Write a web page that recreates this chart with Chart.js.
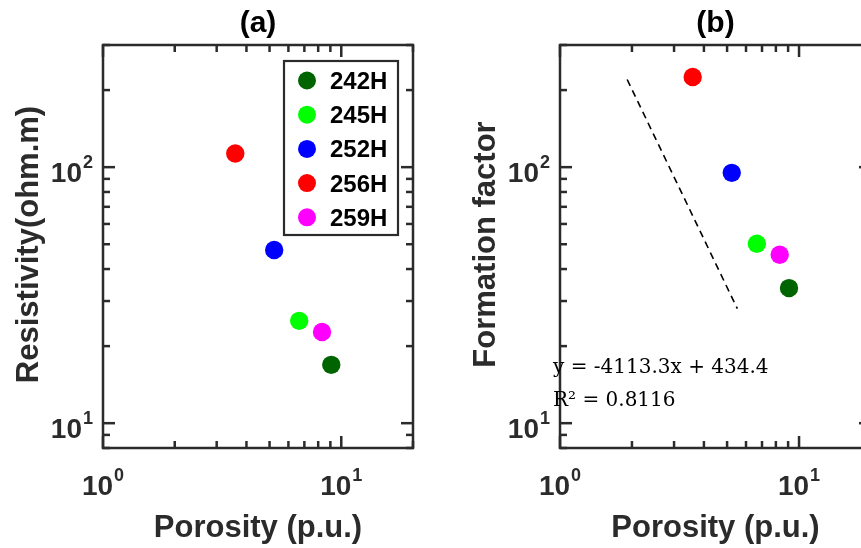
<!DOCTYPE html>
<html>
<head>
<meta charset="utf-8">
<script src="https://cdn.jsdelivr.net/npm/chart.js@4.4.1/dist/chart.umd.min.js"></script>
<style>
  html, body { margin: 0; padding: 0; background: #fff; }
  body { width: 861px; height: 548px; overflow: hidden; position: relative; }
  canvas { position: absolute; top: 0; }
  #chartA { left: 0; }
  #chartB { left: 430px; }
</style>
</head>
<body>
<canvas id="chartA" width="430" height="548"></canvas>
<canvas id="chartB" width="470" height="548"></canvas>
<script>
// wells and their measurements
const wells = ['242H', '245H', '252H', '256H', '259H'];
const wellColors = ['#006400', '#00ff00', '#0000ff', '#ff0000', '#ff00ff'];
const porosity = [9.08, 6.66, 5.23, 3.59, 8.3];
const resistivity = [16.9, 25.1, 47.5, 113, 22.7];
const formationFactor = [33.7, 50.2, 95, 225, 45.5];

// trend line on panel (b)
const fitX = [1.91, 5.52];
const fitY = [220, 28];
const fitText = ['y = -4113.3x + 434.4', 'R\u00b2 = 0.8116'];

// axes
const xMin = 1, xMax = 20;
const yMin = 8, yMax = 300;
const xTicks = [1, 2, 3, 4, 5, 6, 7, 8, 9, 10, 20];
const yTicks = [8, 9, 10, 20, 30, 40, 50, 60, 70, 80, 90, 100, 200, 300];
const majorTicks = [1, 10, 100];
const xTickLabels = [1, 10];
const yTickLabels = [10, 100];

const axisColor = '#2b2b2b';
const sans = '"Liberation Sans", Arial, sans-serif';

function wellDatasets(yValues) {
  return wells.map((w, i) => ({
    label: w,
    data: [{ x: porosity[i], y: yValues[i] }],
    backgroundColor: wellColors[i],
    borderWidth: 0,
    pointRadius: 9.2,
    pointHoverRadius: 9.2
  }));
}

function line(ctx, x1, y1, x2, y2) {
  ctx.beginPath();
  ctx.moveTo(x1, y1);
  ctx.lineTo(x2, y2);
  ctx.stroke();
}

// "10" with a raised exponent
function powerLabel(ctx, value, x, y, side) {
  const exp = String(Math.round(Math.log10(value)));
  ctx.font = 'bold 28px ' + sans;
  const w1 = ctx.measureText('10').width;
  ctx.font = 'bold 18px ' + sans;
  const w2 = ctx.measureText(exp).width;
  let left, base;
  if (side === 'bottom') {
    left = x - (w1 + w2 + 1) / 2;
    base = y + 47;
  } else {
    left = x - 10 - w2 - 1 - w1;
    base = y + 15;
  }
  ctx.textAlign = 'left';
  ctx.textBaseline = 'alphabetic';
  ctx.font = 'bold 28px ' + sans;
  ctx.fillText('10', left, base);
  ctx.font = 'bold 18px ' + sans;
  ctx.fillText(exp, left + w1 + 1, base - 14);
}

// box, inside ticks, labels, legend and notes
const framePlugin = {
  id: 'frame',
  afterDraw(chart, args, opts) {
    const { ctx, chartArea: a, scales: { x, y } } = chart;
    ctx.save();
    ctx.strokeStyle = axisColor;
    ctx.fillStyle = axisColor;
    ctx.lineWidth = 2.5;
    ctx.lineCap = 'butt';
    ctx.strokeRect(a.left, a.top, a.right - a.left, a.bottom - a.top);

    xTicks.forEach(v => {
      const px = x.getPixelForValue(v);
      const len = majorTicks.includes(v) ? 12 : 7;
      line(ctx, px, a.bottom, px, a.bottom - len);
      line(ctx, px, a.top, px, a.top + len);
    });
    yTicks.forEach(v => {
      const py = y.getPixelForValue(v);
      const len = majorTicks.includes(v) ? 12 : 7;
      line(ctx, a.left, py, a.left + len, py);
      line(ctx, a.right, py, a.right - len, py);
    });

    xTickLabels.forEach(v => powerLabel(ctx, v, x.getPixelForValue(v), a.bottom, 'bottom'));
    yTickLabels.forEach(v => powerLabel(ctx, v, a.left, y.getPixelForValue(v), 'left'));

    const cx = (a.left + a.right) / 2;
    const cy = (a.top + a.bottom) / 2 - 2;
    ctx.fillStyle = '#000';
    ctx.textAlign = 'center';
    ctx.textBaseline = 'alphabetic';
    ctx.font = 'bold 30px ' + sans;
    ctx.fillText(opts.title, cx, 32);

    ctx.fillStyle = axisColor;
    ctx.font = 'bold 31px ' + sans;
    ctx.fillText(opts.xLabel, cx, 537);
    ctx.save();
    ctx.translate(a.left - 65, cy);
    ctx.rotate(-Math.PI / 2);
    ctx.fillText(opts.yLabel, 0, 0);
    ctx.restore();

    if (opts.legend) {
      const bw = 114, rowH = 34.2;
      const bl = a.right - 15 - bw, bt = a.top + 16;
      const items = chart.data.datasets.filter(d => wells.includes(d.label));
      ctx.fillStyle = '#fff';
      ctx.fillRect(bl, bt, bw, rowH * items.length + 3);
      ctx.lineWidth = 2.2;
      ctx.strokeRect(bl, bt, bw, rowH * items.length + 3);
      ctx.textAlign = 'left';
      ctx.font = 'bold 24px ' + sans;
      items.forEach((d, i) => {
        const ry = bt + 19.5 + i * rowH;
        ctx.fillStyle = d.backgroundColor;
        ctx.beginPath();
        ctx.arc(bl + 23, ry, 9, 0, Math.PI * 2);
        ctx.fill();
        ctx.fillStyle = '#000';
        ctx.fillText(d.label, bl + 46, ry + 8.5);
      });
    }

    if (opts.notes) {
      ctx.fillStyle = '#000';
      ctx.textAlign = 'left';
      ctx.font = '20px "DejaVu Serif", serif';
      opts.notes.forEach((t, i) => ctx.fillText(t, a.left - 7, 373 + i * 33));
    }
    ctx.restore();
  }
};

function logScales() {
  return {
    x: { type: 'logarithmic', min: xMin, max: xMax, display: false },
    y: { type: 'logarithmic', min: yMin, max: yMax, display: false }
  };
}

const chartA = new Chart(document.getElementById('chartA'), {
  type: 'scatter',
  data: { datasets: wellDatasets(resistivity) },
  options: {
    responsive: false,
    animation: false,
    layout: { padding: { left: 103, right: 17, top: 45, bottom: 100 } },
    scales: logScales(),
    plugins: {
      legend: { display: false },
      tooltip: { enabled: false },
      frame: {
        title: '(a)',
        xLabel: 'Porosity (p.u.)',
        yLabel: 'Resistivity(ohm.m)',
        legend: true
      }
    }
  },
  plugins: [framePlugin]
});

const fitLine = {
  type: 'line',
  label: 'fit',
  data: fitX.map((v, i) => ({ x: v, y: fitY[i] })),
  borderColor: '#000',
  borderWidth: 1.6,
  borderDash: [7, 5],
  pointRadius: 0,
  fill: false
};

const chartB = new Chart(document.getElementById('chartB'), {
  type: 'scatter',
  data: { datasets: [fitLine].concat(wellDatasets(formationFactor)) },
  options: {
    responsive: false,
    animation: false,
    layout: { padding: { left: 130, right: 29, top: 45, bottom: 100 } },
    scales: logScales(),
    plugins: {
      legend: { display: false },
      tooltip: { enabled: false },
      frame: {
        title: '(b)',
        xLabel: 'Porosity (p.u.)',
        yLabel: 'Formation factor',
        legend: false,
        notes: fitText
      }
    }
  },
  plugins: [framePlugin]
});
</script>
</body>
</html>
